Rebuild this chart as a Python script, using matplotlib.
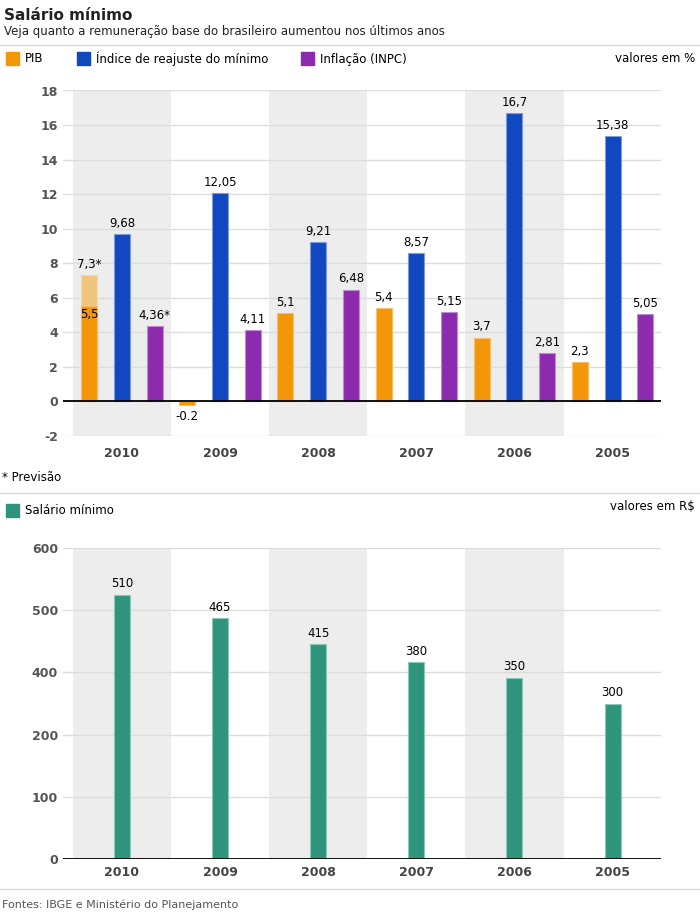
import numpy as np
import matplotlib
matplotlib.use("Agg")
import matplotlib.pyplot as plt
from matplotlib.patches import Rectangle
from matplotlib.lines import Line2D

plt.rcParams['font.family'] = ['DejaVu Sans']

# dados
anos = ['2010', '2009', '2008', '2007', '2006', '2005']
pib = [5.5, -0.2, 5.1, 5.4, 3.7, 2.3]
pib_previsao = 7.3  # 2010
reajuste = [9.68, 12.05, 9.21, 8.57, 16.7, 15.38]
inpc = [4.36, 4.11, 6.48, 5.15, 2.81, 5.05]
salario = [510, 465, 415, 380, 350, 300]

pib_rot = ['5,5', '-0.2', '5,1', '5,4', '3,7', '2,3']
reajuste_rot = ['9,68', '12,05', '9,21', '8,57', '16,7', '15,38']
inpc_rot = ['4,36*', '4,11', '6,48', '5,15', '2,81', '5,05']
salario_rot = ['510', '465', '415', '380', '350', '300']

c_pib = '#F39708'
c_pib_prev = '#F2C57E'
c_reaj = '#1148BF'
c_inpc = '#8C2BAE'
c_sal = '#2E957C'
c_banda = '#EDEDED'
c_grade = '#DDDDDD'

W, H = 700, 922
fig = plt.figure(figsize=(7, 9.22), dpi=100)


def caixa(l, t, r, b):
    return [l / W, 1 - b / H, (r - l) / W, (b - t) / H]


def texto(x, y, s, **kw):
    fig.text(x / W, 1 - y / H, s, va='center', **kw)


def linha(y):
    fig.add_artist(Line2D([0, 1], [1 - y / H] * 2, color='#D8D8D8', lw=1))


def quadrado(x, y, cor):
    fig.add_artist(Rectangle((x / W, 1 - (y + 13) / H), 13 / W, 13 / H,
                             color=cor, transform=fig.transFigure))


g = np.arange(len(anos))
xp, xb, xi = 3 * g, 3 * g + 1, 3 * g + 2
larg = 0.49


def prepara(ax, ticks, rotulos, pad):
    for k in range(0, len(anos), 2):
        ax.axvspan(3 * k - 0.5, 3 * k + 2.5, color=c_banda, zorder=0, lw=0)
    ax.set_xlim(-0.8, 17.48)
    ax.set_yticks(ticks)
    ax.set_yticklabels(rotulos)
    ax.set_axisbelow(True)
    ax.grid(axis='y', color=c_grade, lw=1)
    for s in ax.spines.values():
        s.set_visible(False)
    ax.axhline(0, color='black', lw=1.3, zorder=5)
    ax.set_xticks(xb)
    ax.set_xticklabels(anos)
    ax.tick_params(length=0, labelsize=9, labelcolor='#555555')
    ax.tick_params(axis='x', pad=pad, labelcolor='#444444')
    for t in ax.get_xticklabels() + ax.get_yticklabels():
        t.set_fontweight('bold')


def rotulo(ax, x, y, s, abaixo=False):
    if abaixo:
        ax.annotate(s, (x, y), xytext=(0, -4), textcoords='offset points',
                    ha='center', va='top', fontsize=8.5, zorder=6)
    else:
        ax.annotate(s, (x, y), xytext=(0, 3), textcoords='offset points',
                    ha='center', va='bottom', fontsize=8.5, zorder=6)


# ---- grafico de cima (%)
ax1 = fig.add_axes(caixa(63, 90.5, 661, 436))
prepara(ax1, range(-2, 19, 2), [str(v) for v in range(-2, 19, 2)], 8)
ax1.set_ylim(-2, 18)

ax1.bar(xp[0], pib_previsao, width=larg, color=c_pib_prev, zorder=3,
        edgecolor='#F7D9A8', lw=0.8)
ax1.bar(xp, pib, width=larg, color=c_pib, zorder=3, edgecolor='#F7BF6A', lw=0.8)
ax1.bar(xb, reajuste, width=larg, color=c_reaj, zorder=3, edgecolor='#7E9BDD', lw=0.8)
ax1.bar(xi, inpc, width=larg, color=c_inpc, zorder=3, edgecolor='#C08BD3', lw=0.8)

rotulo(ax1, xp[0], pib_previsao, '7,3*')
ax1.annotate(pib_rot[0], (xp[0], pib[0]), xytext=(0, -1), textcoords='offset points',
             ha='center', va='top', fontsize=8.5, zorder=6)
for i in range(1, len(anos)):
    rotulo(ax1, xp[i], pib[i], pib_rot[i], abaixo=pib[i] < 0)
for i in range(len(anos)):
    rotulo(ax1, xb[i], reajuste[i], reajuste_rot[i])
    rotulo(ax1, xi[i], inpc[i], inpc_rot[i])

# ---- grafico de baixo (R$)
ax2 = fig.add_axes(caixa(63, 548, 661, 859))
prepara(ax2, [0, 120, 240, 360, 480, 600], ['0', '100', '200', '400', '500', '600'], 5)
ax2.set_ylim(0, 600)
ax2.bar(xb, salario, width=larg, color=c_sal, zorder=3, edgecolor='#8CC8B8', lw=0.8)
for i in range(len(anos)):
    rotulo(ax2, xb[i], salario[i], salario_rot[i])

# ---- textos, legendas e linhas
texto(4, 15, 'Salário mínimo', fontsize=11, fontweight='bold', color='#222222')
texto(4, 31, 'Veja quanto a remuneração base do brasileiro aumentou nos últimos anos',
      fontsize=8.5, color='#222222')
linha(45)

quadrado(6, 52.5, c_pib)
texto(25, 59, 'PIB', fontsize=8.5)
quadrado(77, 52.5, c_reaj)
texto(96, 59, 'Índice de reajuste do mínimo', fontsize=8.5)
quadrado(301, 52.5, c_inpc)
texto(320, 59, 'Inflação (INPC)', fontsize=8.5)
texto(695, 59, 'valores em %', fontsize=8.5, ha='right')

texto(2, 477, '* Previsão', fontsize=8.5)
linha(493)
quadrado(6, 503.5, c_sal)
texto(25, 510, 'Salário mínimo', fontsize=8.5)
texto(695, 507, 'valores em R$', fontsize=8.5, ha='right')

linha(889)
texto(2, 905, 'Fontes: IBGE e Ministério do Planejamento', fontsize=8, color='#555555')

fig.savefig('out.png', dpi=100)
